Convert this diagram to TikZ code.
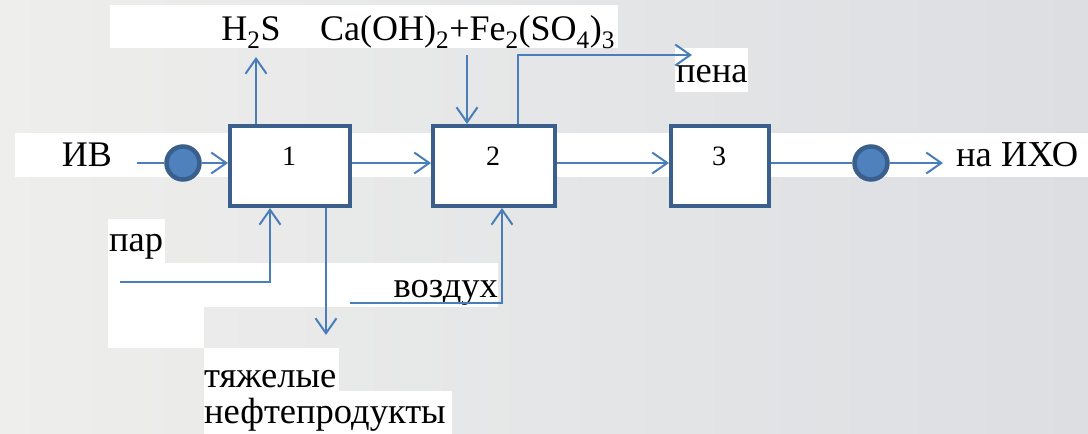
\documentclass[tikz,border=0pt]{standalone}
\usepackage{fontspec}
\setmainfont{Liberation Serif}
\newfontfamily\labelfont{Liberation Serif}
\usetikzlibrary{arrows.meta}

\definecolor{flow}{HTML}{4A7EBB}
\definecolor{frame}{HTML}{3B5F8D}
\definecolor{dotfill}{HTML}{4F81BD}
\definecolor{bgleft}{HTML}{EEEEEC}
\definecolor{bgright}{HTML}{DCDEE2}

\begin{document}
\begin{tikzpicture}[x=1pt,y=-1pt,
  patch/.style={fill=white},
  unit/.style={draw=frame,line width=4pt,fill=white,inner sep=0pt,minimum height=80pt},
  joint/.style={circle,draw=frame,fill=dotfill,line width=4.5pt,minimum size=33pt,inner sep=0pt},
  pipe/.style={draw=flow,line width=2pt},
  feed/.style={pipe,-{Straight Barb[length=15pt,width=21pt]}},
  lbl/.style={inner sep=0pt,font=\labelfont\fontsize{36.5}{40}\selectfont},
  formula/.style={inner sep=0pt,font=\labelfont\fontsize{36}{40}\selectfont},
  num/.style={inner sep=0pt,font=\labelfont\fontsize{28}{30}\selectfont,anchor=base}]

  \useasboundingbox (0,0) rectangle (1088,434);
  \fill[left color=bgleft,right color=bgright] (0,0) rectangle (1088,434);

  % white backing behind the captions
  \fill[patch] (110,5) rectangle (618,48);
  \fill[patch] (15,133) rectangle (1088,177);
  \fill[patch] (675,48) rectangle (748,92);
  \fill[patch] (108,219) rectangle (165,263);
  \fill[patch] (108,263) rectangle (498,307);
  \fill[patch] (108,307) rectangle (204,348);
  \fill[patch] (204,348) rectangle (339,391);
  \fill[patch] (204,391) rectangle (452,434);

  % process units
  \node[unit,minimum width=120pt] (b1) at (290,166) {};
  \node[unit,minimum width=122pt] (b2) at (494,166) {};
  \node[unit,minimum width=98pt]  (b3) at (720,166) {};
  \node[num] (n1) at (289,165) {1};
  \node[num] (n2) at (493,165) {2};
  \node[num] (n3) at (719,165) {3};

  % pumps / junctions
  \node[joint] (c1) at (183,163) {};
  \node[joint] (c2) at (871,163) {};

  % captions
  \node[formula,anchor=base] (iv) at (87,166) {ИВ};
  \node[lbl,anchor=base west] (iho) at (956,166) {на ИХО};
  \node[formula,anchor=base] (h2s) at (251,40) {H\textsubscript{2}S};
  \node[formula,anchor=base west] (reag) at (320,40) {Ca(OH)\textsubscript{2}+Fe\textsubscript{2}(SO\textsubscript{4})\textsubscript{3}};
  \node[lbl,anchor=base west] (foam) at (676,82) {пена};
  \node[lbl,anchor=base west] (steam) at (109,251) {пар};
  \node[lbl,anchor=base east] (air) at (498,297) {воздух};
  \node[lbl,anchor=base west] (heavy1) at (204,387) {тяжелые};
  \node[lbl,anchor=base west] (heavy2) at (204,423) {нефтепродукты};

  % free ends of the pipes
  \coordinate (inlet) at (137,163);
  \coordinate (outlet) at (943,163);
  \coordinate (h2sTop) at (256,57);
  \coordinate (reagTop) at (467,55);
  \coordinate (foamUp) at (518,55);
  \coordinate (foamEnd) at (692,55);
  \coordinate (steamIn) at (120,282);
  \coordinate (heavyEnd) at (326,335);
  \coordinate (airIn) at (350,303);

  % main stream
  \draw[pipe] (inlet) -- (c1.west);
  \draw[feed] (c1.east) -- (c1 -| b1.west);
  \draw[feed] (b1.east |- c1) -- (b2.west |- c1);
  \draw[feed] (b2.east |- c1) -- (b3.west |- c1);
  \draw[pipe] (b3.east |- c2) -- (c2.west);
  \draw[feed] (c2.east) -- (outlet);

  % side streams
  \draw[feed] ([xshift=-34pt]b1.north) -- (h2sTop);
  \draw[feed] (reagTop) -- (reagTop |- b2.north);
  \draw[feed] (foamUp |- b2.north) -- (foamUp) -- (foamEnd);
  \draw[feed] (steamIn) -| ([xshift=-20pt]b1.south);
  \draw[feed] (heavyEnd |- b1.south) -- (heavyEnd);
  \draw[feed] (airIn) -| ([xshift=8pt]b2.south);
\end{tikzpicture}
\end{document}
